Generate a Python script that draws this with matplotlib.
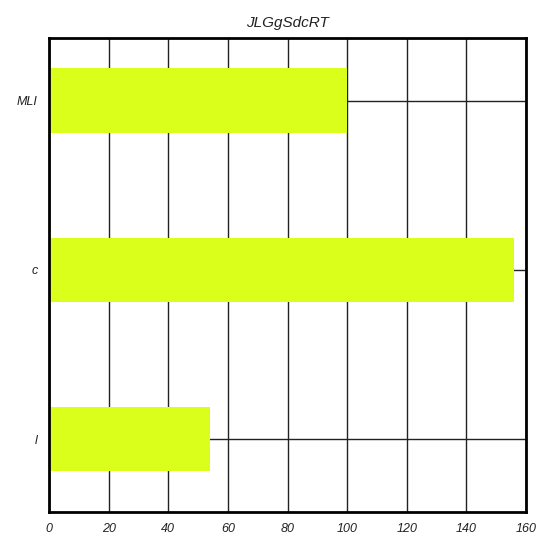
import matplotlib
matplotlib.use("Agg")
import matplotlib.pyplot as plt

categories = ["l", "c", "MLI"]
values = [54, 156, 100]
xticks = [0, 20, 40, 60, 80, 100, 120, 140, 160]
title = "JLGgSdcRT"

plt.rcParams['font.family'] = ['Liberation Sans', 'DejaVu Sans']
plt.rcParams['font.style'] = 'italic'

fig = plt.figure(figsize=(5.52, 5.52), dpi=100)
ax = fig.add_axes([49/552, 40/552, (526-49)/552, (512-38)/552])
ax.barh(range(len(categories)), values, height=0.38, color="#DAFF1A", zorder=2)
ax.set_xlim(0, 160)
ax.set_ylim(-0.43, 2.37)
ax.set_xticks(xticks)
ax.set_xticklabels([str(t) for t in xticks], fontsize=9, style='italic', color='#222222')
ax.set_yticks(range(len(categories)))
ax.set_yticklabels(categories, fontsize=9, style='italic', color='#222222')
ax.tick_params(length=0, pad=8)
ax.grid(True, color='#222222', linewidth=1, zorder=1)
ax.set_axisbelow(True)
for s in ax.spines.values():
    s.set_linewidth(2)
    s.set_color('black')
ax.set_title(title, fontsize=11, style='italic', color='#222222', pad=8)
fig.savefig("out.png", dpi=100)
